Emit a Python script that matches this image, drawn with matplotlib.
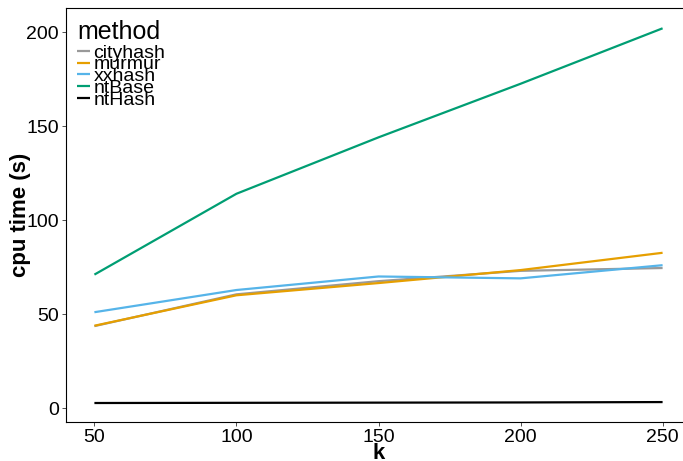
import matplotlib.pyplot as plt
import numpy as np

plt.rcParams['font.family'] = ['Liberation Sans', 'DejaVu Sans']

k = [50, 100, 150, 200, 250]
methods = ["cityhash", "murmur", "xxhash", "ntBase", "ntHash"]
cityhash = [43.6, 60.5, 67.5, 73.0, 74.5]
murmur = [43.8, 60.0, 66.5, 73.4, 82.6]
xxhash = [51.0, 62.8, 70.0, 69.0, 76.0]
ntBase = [71.0, 114.0, 144.0, 172.5, 202.0]
ntHash = [2.7, 2.8, 2.9, 3.0, 3.2]
colors = ["#999999", "#E69F00", "#56B4E9", "#009E73", "#000000"]

fig = plt.figure(figsize=(6.83, 4.61), dpi=100)
ax = fig.add_axes([66 / 683, 39 / 461, 625 / 683, 414 / 461])

for name, vals, c in zip(methods, [cityhash, murmur, xxhash, ntBase, ntHash], colors):
    ax.plot(k, vals, color=c, linewidth=1.6, label=name, solid_capstyle="butt")

ax.set_xlim(40, 260)
ax.set_ylim(-7.4, 212.8)
ax.set_xticks([50, 100, 150, 200, 250])
ax.set_yticks([0, 50, 100, 150, 200])
ax.tick_params(labelsize=14, length=3, width=0.6, color="#333333", labelcolor="black", pad=2)
for s in ax.spines.values():
    s.set_linewidth(0.8)
    s.set_color("black")

ax.set_xlabel("k", fontsize=16, fontweight="bold", labelpad=-2)
ax.set_ylabel("cpu time (s)", fontsize=16, fontweight="bold", labelpad=-3)

leg = ax.legend(title="method", loc="upper left", bbox_to_anchor=(0.008, 0.985),
                frameon=False, fontsize=14, title_fontsize=18, handlelength=0.7,
                handletextpad=0.15, labelspacing=-0.3, borderaxespad=0.2,
                borderpad=0.1)
leg._legend_box.align = "left"
leg._legend_box.sep = 0

fig.savefig("out.png", dpi=100)
plt.close()
